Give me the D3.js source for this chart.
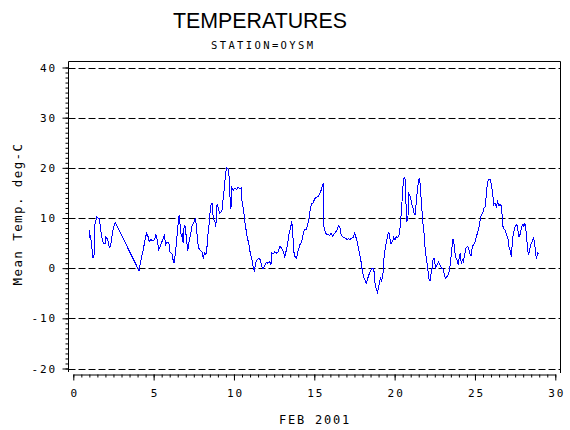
<!DOCTYPE html>
<html>
<head>
<meta charset="utf-8">
<script src="https://cdn.jsdelivr.net/npm/d3@7"></script>
<style>
  body { margin: 0; background: #fff; }
  svg { display: block; }
</style>
</head>
<body>
<div id="chart"></div>
<script>
// hourly-ish mean temperature, station OYSM, Feb 2001

var title = "TEMPERATURES",
	subtitle = "STATION=OYSM",
	x_label = "FEB 2001",
	y_label = "Mean Temp. deg-C";

var x_ticks = [0, 5, 10, 15, 20, 25, 30],
	y_ticks = [-20, -10, 0, 10, 20, 30, 40];

// day of month (decimal)
var day = [
	1.00, 1.03, 1.07, 1.10, 1.23, 1.29, 1.35, 1.45, 1.53, 1.62, 1.70, 1.78, 1.87, 1.97,
	2.03, 2.14, 2.24, 2.32, 2.40, 2.49, 2.61,
	4.09, 4.16, 4.25, 4.36, 4.44, 4.56, 4.65, 4.73, 4.81, 4.94,
	5.06, 5.14, 5.23, 5.31, 5.39, 5.52, 5.66, 5.76, 5.85, 5.95,
	6.01, 6.14, 6.22, 6.28, 6.34, 6.41, 6.47, 6.55, 6.59, 6.66, 6.72, 6.78, 6.84, 6.90, 6.97,
	7.05, 7.13, 7.19, 7.30, 7.38, 7.49, 7.59, 7.67, 7.73, 7.81, 7.88,
	8.00, 8.09, 8.17, 8.25, 8.34, 8.40, 8.46, 8.54, 8.63, 8.71, 8.81, 8.87, 8.95,
	9.04, 9.12, 9.25, 9.33, 9.41, 9.48, 9.56, 9.64, 9.71, 9.75, 9.81, 9.87, 9.95,
	10.06, 10.16, 10.26, 10.36, 10.45, 10.51, 10.61, 10.70, 10.82, 10.93,
	11.03, 11.14, 11.20, 11.28, 11.36, 11.45, 11.55, 11.65, 11.72, 11.80, 11.90,
	12.01, 12.11, 12.22, 12.30, 12.36, 12.44, 12.53, 12.65, 12.75, 12.86, 12.96,
	13.06, 13.16, 13.27, 13.35, 13.43, 13.52, 13.60, 13.66, 13.74, 13.80, 13.89,
	14.01, 14.12, 14.22, 14.30, 14.39, 14.51, 14.59, 14.68, 14.76, 14.84, 14.93,
	15.03, 15.13, 15.24, 15.34, 15.44, 15.51, 15.57, 15.59, 15.67, 15.76, 15.86, 15.97,
	16.05, 16.13, 16.21, 16.32, 16.42, 16.51, 16.59, 16.65, 16.73, 16.84, 16.94,
	17.05, 17.13, 17.21, 17.31, 17.42, 17.50, 17.58, 17.67, 17.75, 17.83, 17.91, 17.98,
	18.06, 18.14, 18.24, 18.33, 18.41, 18.49, 18.57, 18.66, 18.72, 18.78, 18.84, 18.93, 18.99,
	19.05, 19.11, 19.18, 19.24, 19.30, 19.34, 19.43, 19.51, 19.57, 19.64, 19.70, 19.78, 19.86, 19.94,
	20.03, 20.11, 20.19, 20.28, 20.36, 20.44, 20.52, 20.59, 20.65, 20.71, 20.77, 20.83, 20.89, 20.98,
	21.06, 21.15, 21.21, 21.27, 21.35, 21.44, 21.52, 21.58, 21.66, 21.75, 21.83, 21.91,
	22.00, 22.06, 22.12, 22.20, 22.26, 22.33, 22.39, 22.45, 22.56, 22.64, 22.72, 22.80, 22.91,
	23.01, 23.09, 23.17, 23.26, 23.34, 23.42, 23.49, 23.55, 23.61, 23.67, 23.74, 23.82, 23.90, 23.96,
	24.03, 24.09, 24.15, 24.21, 24.28, 24.36, 24.44, 24.53, 24.61, 24.67, 24.76, 24.82, 24.90, 24.98,
	25.07, 25.15, 25.23, 25.31, 25.40, 25.48, 25.56, 25.64, 25.71, 25.77, 25.85, 25.94,
	26.02, 26.10, 26.17, 26.25, 26.33, 26.41, 26.49, 26.58, 26.66, 26.72, 26.80, 26.89, 26.97,
	27.05, 27.11, 27.19, 27.26, 27.32, 27.38, 27.47, 27.55, 27.61, 27.68, 27.74, 27.82, 27.90, 27.99,
	28.05, 28.11, 28.19, 28.26, 28.32, 28.38, 28.47, 28.55, 28.63, 28.71, 28.78, 28.84, 28.90, 28.96
];

// mean temperature, deg C
var temp = [
	7.7, 6.0, 6.3, 5.7, 2.0, 2.7, 8.7, 10.2, 10.0, 10.0, 7.7, 6.0, 5.0, 4.8,
	6.3, 5.7, 4.1, 4.3, 6.3, 8.0, 9.1,
	-0.5, 0.7, 2.3, 3.7, 5.3, 7.0, 6.3, 5.3, 5.7, 5.5,
	5.7, 6.7, 5.5, 3.7, 4.1, 5.3, 6.5, 4.7, 5.2, 5.0,
	3.3, 2.8, 1.5, 1.0, 2.7, 4.7, 7.0, 9.7, 10.5, 8.3, 6.3, 6.7, 5.0, 8.5, 8.3,
	5.5, 3.5, 5.0, 6.7, 8.3, 9.0, 10.0, 8.3, 5.3, 4.0, 3.7,
	3.3, 2.1, 3.0, 2.7, 4.7, 7.5, 9.0, 12.3, 13.0, 10.0, 9.3, 8.3, 12.8,
	11.7, 11.0, 11.3, 14.0, 16.3, 19.0, 20.0, 19.7, 18.0, 14.3, 11.7, 16.0, 15.5,
	16.0, 15.7, 16.1, 15.8, 16.0, 13.0, 11.3, 8.7, 6.3, 4.7,
	2.7, 1.5, 0.0, -0.5, 1.2, 1.7, 1.9, 1.7, 0.3, -0.1, 0.3,
	1.2, 1.0, 1.3, 0.7, 3.0, 2.8, 3.2, 3.0, 3.3, 4.3, 4.0,
	3.3, 2.3, 3.7, 5.0, 7.0, 8.0, 9.3, 6.7, 3.0, 2.3, 2.0,
	3.7, 4.8, 5.3, 6.7, 7.7, 7.8, 8.7, 10.0, 12.0, 12.9, 13.0,
	13.9, 14.1, 14.3, 14.8, 15.7, 16.5, 16.8, 8.3, 7.3, 6.7, 6.8, 6.5,
	7.0, 6.3, 6.7, 7.1, 7.7, 8.5, 8.3, 7.0, 6.3, 6.1, 6.0,
	5.7, 5.9, 5.7, 6.0, 6.1, 7.0, 6.3, 5.3, 4.0, 2.7, 1.3, -0.3,
	-1.7, -2.3, -3.0, -2.0, -1.2, -0.7, -0.1, -0.1, -0.7, -3.0, -4.0, -4.8, -4.0,
	-3.0, -2.0, -2.5, -1.9, -0.3, 2.0, 4.3, 5.5, 6.7, 7.2, 6.0, 4.8, 5.3, 6.1,
	5.7, 6.3, 6.1, 6.7, 8.7, 12.3, 16.3, 18.1, 17.7, 12.7, 9.3, 10.3, 14.8, 14.3,
	12.8, 12.0, 11.0, 10.7, 13.3, 16.3, 17.9, 17.0, 13.3, 9.3, 7.0, 3.3,
	1.3, 0.0, -2.0, -2.5, -1.3, 0.0, 1.7, 2.0, 0.1, 0.7, 1.2, 0.8, 0.0,
	-0.1, -1.3, -2.0, -1.7, -1.2, -0.3, 1.7, 3.3, 5.7, 5.7, 3.3, 2.0, 1.5, 0.7,
	2.3, 3.0, 0.8, 1.7, 1.3, 2.7, 4.0, 4.3, 4.0, 3.0, 2.5, 4.0, 4.7, 5.0,
	6.0, 7.0, 7.7, 9.3, 10.7, 11.0, 12.0, 12.3, 14.8, 17.0, 17.7, 17.7,
	16.7, 14.8, 12.7, 13.0, 12.3, 13.3, 12.5, 12.7, 12.3, 8.5, 7.9, 7.5, 6.7,
	6.0, 4.3, 3.5, 2.3, 4.7, 6.7, 8.0, 8.5, 8.7, 7.3, 6.3, 6.8, 8.3, 8.7,
	8.3, 9.0, 7.0, 4.5, 2.7, 3.3, 4.7, 5.2, 6.0, 5.2, 2.7, 2.1, 3.0, 2.8
];

var width = 570,
	height = 430;

var mono = "'DejaVu Sans Mono', monospace";

var x = d3.scaleLinear().domain([0, 30]).range([73.3, 555.3]);
var y = d3.scaleLinear().domain([-20, 40]).range([368.5, 67.5]);

var frame_left = 68.5,
	frame_right = 560.5,
	frame_top = 61.5,
	x_axis_y = 374.5;

var svg = d3.select("#chart")
	.append("svg")
	.attr("width", width)
	.attr("height", height);

// titles
svg.append("text")
	.attr("x", 260)
	.attr("y", 28.3)
	.attr("text-anchor", "middle")
	.attr("font-family", "'Liberation Sans', Arial, sans-serif")
	.attr("font-size", 22)
	.attr("textLength", 174)
	.attr("lengthAdjust", "spacingAndGlyphs")
	.text(title);

svg.append("text")
	.attr("x", 262)
	.attr("y", 48.5)
	.attr("text-anchor", "middle")
	.attr("font-family", mono)
	.attr("font-size", 10.5)
	.attr("textLength", 102)
	.attr("lengthAdjust", "spacing")
	.text(subtitle);

// dashed reference lines at the major y ticks
svg.append("g")
	.selectAll("line")
	.data(y_ticks)
	.enter().append("line")
	.attr("x1", frame_left)
	.attr("x2", frame_right)
	.attr("y1", function(d) { return Math.round(y(d)) + 0.5; })
	.attr("y2", function(d) { return Math.round(y(d)) + 0.5; })
	.attr("stroke", "#000")
	.attr("stroke-dasharray", "7,3");

// frame: top and right edges, left axis line
svg.append("path")
	.attr("d", "M" + frame_left + "," + 372 + "V" + frame_top + "H" + frame_right + "V" + 373)
	.attr("fill", "none")
	.attr("stroke", "#000");

// y axis ticks
var y_minor = svg.append("g")
	.attr("transform", "translate(" + frame_left + ",0)")
	.call(d3.axisLeft(y).tickValues(d3.range(-20, 41, 1)).tickSize(3).tickFormat(""));
y_minor.select(".domain").remove();

var y_axis = svg.append("g")
	.attr("transform", "translate(" + frame_left + ",0)")
	.call(d3.axisLeft(y).tickValues(y_ticks).tickSize(6).tickPadding(0)
		.tickFormat(function(d) { return String(d); }));
y_axis.select(".domain").remove();
y_axis.selectAll("text")
	.attr("x", -11.5)
	.attr("font-family", mono)
	.attr("font-size", 11)
	.attr("letter-spacing", 1.9);

// x axis
var x_minor = svg.append("g")
	.attr("transform", "translate(0," + x_axis_y + ")")
	.call(d3.axisBottom(x).tickValues(d3.range(0, 30.5, 0.5)).tickSize(3).tickFormat(""));
x_minor.select(".domain").remove();

var x_axis = svg.append("g")
	.attr("transform", "translate(0," + x_axis_y + ")")
	.call(d3.axisBottom(x).tickValues(x_ticks).tickSize(6).tickSizeOuter(0)
		.tickFormat(function(d) { return String(d); }));
x_axis.selectAll("text")
	.attr("y", 22.5)
	.attr("dy", 0)
	.attr("dx", 1)
	.attr("font-family", mono)
	.attr("font-size", 11)
	.attr("letter-spacing", 1.9);

svg.selectAll(".tick line, .domain").attr("stroke", "#000");

// axis labels
svg.append("text")
	.attr("x", 315)
	.attr("y", 424.3)
	.attr("text-anchor", "middle")
	.attr("font-family", mono)
	.attr("font-size", 12)
	.attr("letter-spacing", 1.8)
	.text(x_label);

svg.append("text")
	.attr("transform", "translate(21.5,214) rotate(-90)")
	.attr("text-anchor", "middle")
	.attr("font-family", mono)
	.attr("font-size", 12.5)
	.attr("letter-spacing", 1.4)
	.text(y_label);

// temperature trace
var points = day.map(function(d, i) { return [d, temp[i]]; });

var line = d3.line()
	.x(function(d) { return x(d[0]); })
	.y(function(d) { return y(d[1]); });

svg.append("path")
	.datum(points)
	.attr("d", line)
	.attr("fill", "none")
	.attr("stroke", "#0000ff")
	.attr("stroke-width", 1)
	.attr("shape-rendering", "crispEdges");
</script>
</body>
</html>
